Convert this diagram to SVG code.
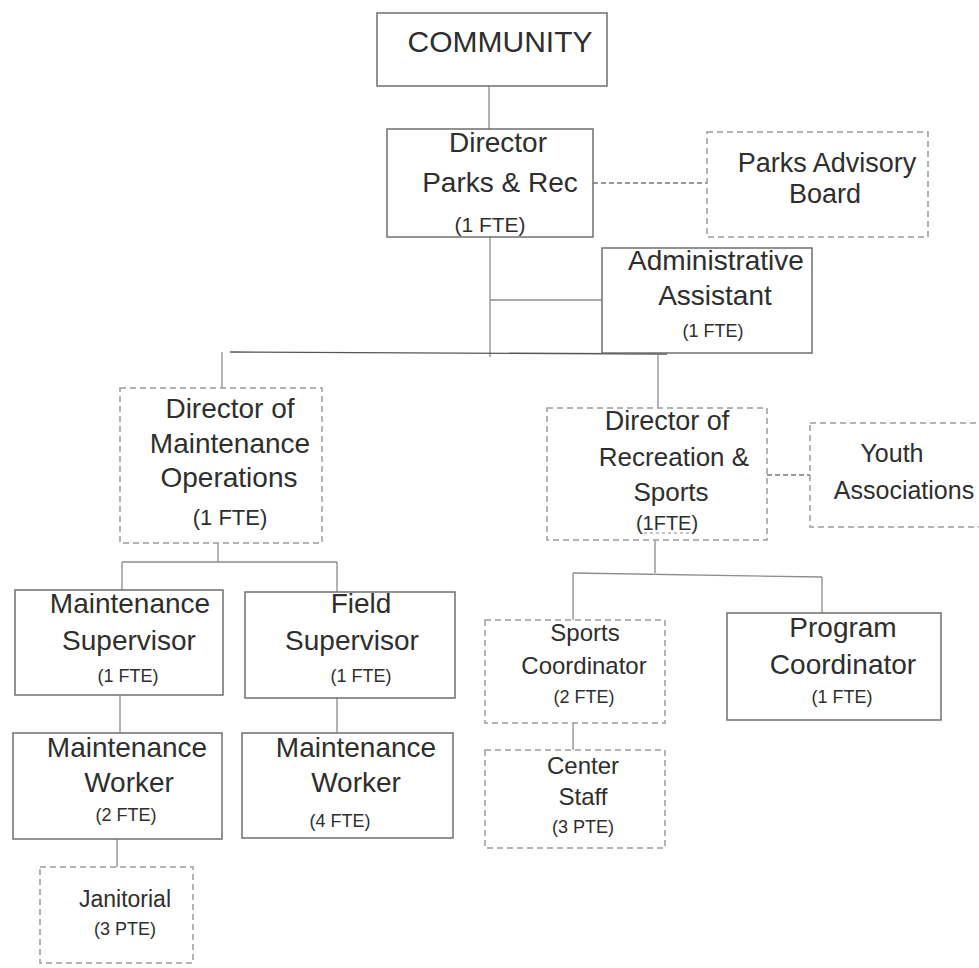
<svg xmlns="http://www.w3.org/2000/svg" width="979" height="968" viewBox="0 0 979 968">
<style>
.box{fill:#fff;stroke:#6f6f6f;stroke-width:1.5}
.dbox{fill:#fff;stroke:#9c9c9c;stroke-width:1.5;stroke-dasharray:6 4}
text{font-family:"Liberation Sans",Arial,sans-serif;fill:#2e2e2e;text-anchor:middle}
.l{font-size:28px}
.m{font-size:24px}
.s{font-size:18px}
.conn line{stroke:#8c8c8c;stroke-width:1.3;fill:none}
.conn line.main{stroke:#555}
.conn line.d{stroke:#777;stroke-dasharray:5 3;stroke-width:1.5}
</style>
<rect width="979" height="968" fill="#fff"/>
<g class="conn" id="connectors">
<line x1="489" y1="86" x2="489" y2="129"/>
<line x1="490" y1="237" x2="490" y2="357"/>
<line x1="490" y1="300" x2="602" y2="300"/>
<line class="main" x1="230" y1="352" x2="667" y2="354"/>
<line x1="222" y1="352" x2="222" y2="388"/>
<line x1="658" y1="354" x2="658" y2="408"/>
<line class="d" x1="593" y1="183" x2="707" y2="183"/>
<line class="d" x1="767" y1="475" x2="810" y2="475"/>
<line x1="218" y1="543" x2="218" y2="562"/>
<line x1="122" y1="562" x2="337" y2="562"/>
<line x1="122" y1="562" x2="122" y2="590"/>
<line x1="337" y1="562" x2="337" y2="592"/>
<line x1="120" y1="695" x2="120" y2="733"/>
<line x1="337" y1="698" x2="337" y2="733"/>
<line x1="117" y1="839" x2="117" y2="867"/>
<line x1="655" y1="540" x2="655" y2="573"/>
<line x1="573" y1="573" x2="822" y2="577"/>
<line x1="573" y1="573" x2="573" y2="620"/>
<line x1="822" y1="577" x2="822" y2="613"/>
<line x1="573" y1="723" x2="573" y2="750"/>
</g>
<g id="community">
<rect class="box" x="377" y="13" width="230" height="73"/>
<text x="500" y="52" style="font-size:30px">COMMUNITY</text>
</g>
<g id="director">
<rect class="box" x="387" y="129" width="206" height="108"/>
<text class="l" x="498" y="152">Director</text>
<text class="l" x="500" y="192">Parks &amp; Rec</text>
<text x="490" y="232" style="font-size:21px">(1 FTE)</text>
</g>
<g id="advisory">
<rect class="dbox" x="707" y="132" width="221" height="105"/>
<text x="827" y="172" style="font-size:27px">Parks Advisory</text>
<text x="825" y="203" style="font-size:27px">Board</text>
</g>
<g id="admin">
<rect class="box" x="602" y="248" width="210" height="105"/>
<text class="l" x="716" y="270">Administrative</text>
<text class="l" x="715" y="305">Assistant</text>
<text class="s" x="713" y="337">(1 FTE)</text>
</g>
<g id="dirmaint">
<rect class="dbox" x="120" y="388" width="202" height="155"/>
<text class="l" x="230" y="418">Director of</text>
<text class="l" x="230" y="453">Maintenance</text>
<text class="l" x="229" y="487">Operations</text>
<text x="230" y="525" style="font-size:22px">(1 FTE)</text>
</g>
<g id="dirrec">
<rect class="dbox" x="547" y="408" width="220" height="132"/>
<text x="667" y="430" style="font-size:27px">Director of</text>
<text x="674" y="466" style="font-size:26px">Recreation &amp;</text>
<text x="671" y="501" style="font-size:26px">Sports</text>
<text x="667" y="530" style="font-size:20px">(1FTE)</text>
<line x1="644" y1="533" x2="692" y2="533" stroke="#888" stroke-width="1" stroke-dasharray="3 3"/>
</g>
<g id="youth">
<rect class="dbox" x="810" y="423" width="185" height="104"/>
<text x="892" y="462" style="font-size:25px">Youth</text>
<text x="904" y="499" style="font-size:25px">Associations</text>
</g>
<g id="maintsup">
<rect class="box" x="15" y="590" width="208" height="105"/>
<text class="l" x="130" y="613">Maintenance</text>
<text class="l" x="129" y="650">Supervisor</text>
<text class="s" x="128" y="682">(1 FTE)</text>
</g>
<g id="fieldsup">
<rect class="box" x="245" y="592" width="210" height="106"/>
<text class="l" x="361" y="613">Field</text>
<text class="l" x="352" y="650">Supervisor</text>
<text class="s" x="361" y="682">(1 FTE)</text>
</g>
<g id="worker1">
<rect class="box" x="13" y="733" width="209" height="106"/>
<text class="l" x="127" y="757">Maintenance</text>
<text class="l" x="129" y="792">Worker</text>
<text class="s" x="126" y="821">(2 FTE)</text>
</g>
<g id="worker2">
<rect class="box" x="242" y="733" width="211" height="105"/>
<text class="l" x="356" y="757">Maintenance</text>
<text class="l" x="356" y="792">Worker</text>
<text class="s" x="340" y="827">(4 FTE)</text>
</g>
<g id="janitorial">
<rect class="dbox" x="40" y="867" width="153" height="96"/>
<text x="125" y="907" style="font-size:23px">Janitorial</text>
<text class="s" x="125" y="935">(3 PTE)</text>
</g>
<g id="sportsco">
<rect class="dbox" x="485" y="620" width="180" height="103"/>
<text class="m" x="585" y="641">Sports</text>
<text class="m" x="584" y="674">Coordinator</text>
<text class="s" x="584" y="703">(2 FTE)</text>
</g>
<g id="centerstaff">
<rect class="dbox" x="485" y="750" width="180" height="98"/>
<text class="m" x="583" y="774">Center</text>
<text class="m" x="583" y="805">Staff</text>
<text class="s" x="583" y="833">(3 PTE)</text>
</g>
<g id="progco">
<rect class="box" x="727" y="613" width="214" height="107"/>
<text class="l" x="843" y="637">Program</text>
<text class="l" x="843" y="674">Coordinator</text>
<text class="s" x="842" y="703">(1 FTE)</text>
</g>
</svg>
